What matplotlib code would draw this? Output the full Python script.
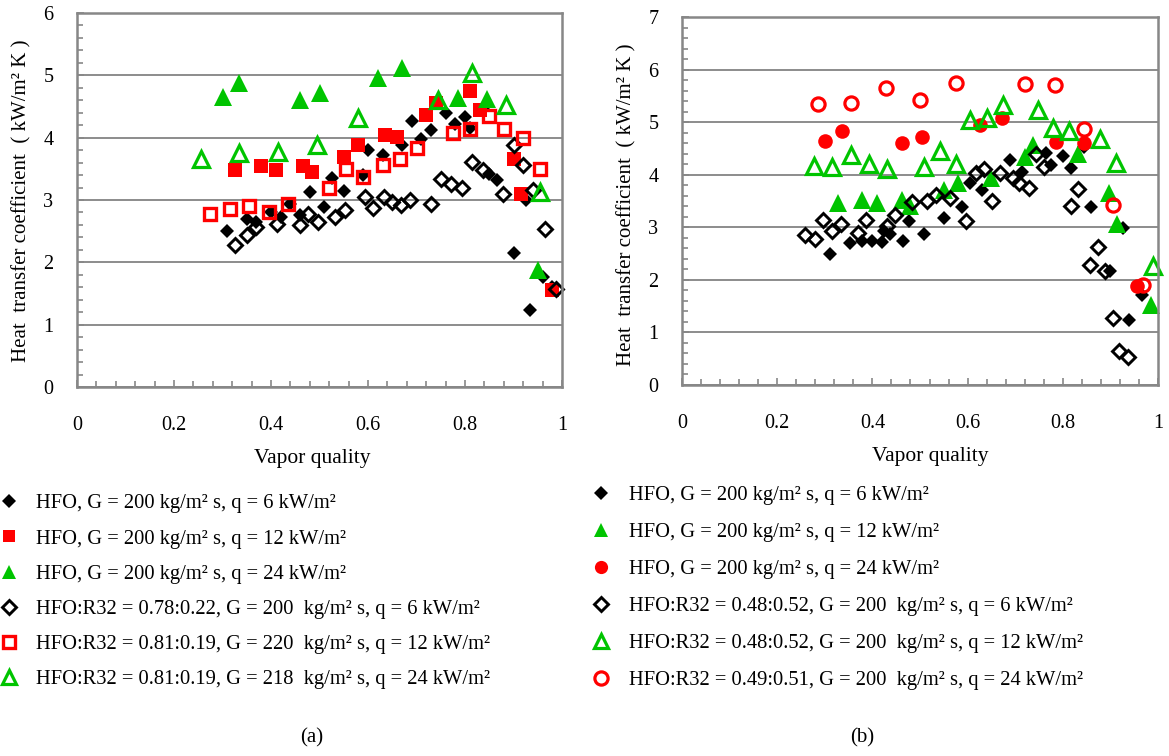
import matplotlib
matplotlib.use("Agg")
import matplotlib.pyplot as plt
from matplotlib.ticker import MultipleLocator, FuncFormatter

plt.rcParams['font.family'] = ['Liberation Serif', 'DejaVu Serif']

GREEN = '#00c400'
RED = '#ff0000'
BLACK = '#000000'
GRAY = '#878787'

# ---------------- (a) HFO vs HFO:R32 (0.78-0.81 HFO) ----------------
a_hfo_q6_x = [0.31, 0.35, 0.37, 0.40, 0.42, 0.44, 0.46, 0.48, 0.51, 0.525, 0.55, 0.59, 0.60, 0.63, 0.67,
              0.69, 0.71, 0.73, 0.76, 0.78, 0.80, 0.81, 0.84, 0.85, 0.865, 0.90, 0.925, 0.935, 0.96, 0.98]
a_hfo_q6_y = [2.50, 2.70, 2.65, 2.80, 2.72, 2.93, 2.76, 3.13, 2.89, 3.36, 3.15, 3.40, 3.80, 3.72, 3.88,
              4.27, 3.98, 4.12, 4.40, 4.22, 4.33, 4.15, 4.50, 3.42, 3.32, 2.15, 3.00, 1.23, 1.77, 1.60]

a_hfo_q12_x = [0.325, 0.38, 0.41, 0.465, 0.485, 0.55, 0.58, 0.635, 0.66, 0.72, 0.74, 0.81, 0.83, 0.90, 0.915, 0.98]
a_hfo_q12_y = [3.48, 3.55, 3.48, 3.55, 3.45, 3.69, 3.88, 4.04, 4.01, 4.36, 4.55, 4.75, 4.44, 3.66, 3.09, 1.55]

a_hfo_q24_x = [0.30, 0.335, 0.46, 0.50, 0.62, 0.67, 0.785, 0.845, 0.95]
a_hfo_q24_y = [4.65, 4.87, 4.60, 4.71, 4.95, 5.11, 4.63, 4.62, 1.87]

a_mix_q6_x = [0.326, 0.35, 0.37, 0.412, 0.46, 0.477, 0.496, 0.532, 0.553, 0.594, 0.611, 0.632, 0.649, 0.669,
              0.687, 0.729, 0.751, 0.771, 0.793, 0.815, 0.838, 0.879, 0.90, 0.92, 0.941, 0.965, 0.987]
a_mix_q6_y = [2.28, 2.44, 2.57, 2.62, 2.60, 2.78, 2.65, 2.73, 2.84, 3.05, 2.87, 3.05, 2.97, 2.92,
              3.00, 2.94, 3.34, 3.25, 3.20, 3.61, 3.48, 3.09, 3.89, 3.56, 3.16, 2.53, 1.58]

a_mix_q12_x = [0.275, 0.315, 0.355, 0.395, 0.435, 0.52, 0.555, 0.59, 0.63, 0.665, 0.70, 0.775, 0.81,
               0.85, 0.88, 0.92, 0.955]
a_mix_q12_y = [2.77, 2.86, 2.91, 2.81, 2.93, 3.20, 3.50, 3.37, 3.56, 3.65, 3.84, 4.07, 4.14,
               4.34, 4.14, 3.99, 3.49]

a_mix_q24_x = [0.255, 0.335, 0.415, 0.495, 0.58, 0.745, 0.815, 0.885, 0.955]
a_mix_q24_y = [3.66, 3.75, 3.77, 3.88, 4.31, 4.60, 5.03, 4.52, 3.13]

a_labels = [
    "HFO, G = 200 kg/m\u00b2 s, q = 6 kW/m\u00b2",
    "HFO, G = 200 kg/m\u00b2 s, q = 12 kW/m\u00b2",
    "HFO, G = 200 kg/m\u00b2 s, q = 24 kW/m\u00b2",
    "HFO:R32 = 0.78:0.22, G = 200  kg/m\u00b2 s, q = 6 kW/m\u00b2",
    "HFO:R32 = 0.81:0.19, G = 220  kg/m\u00b2 s, q = 12 kW/m\u00b2",
    "HFO:R32 = 0.81:0.19, G = 218  kg/m\u00b2 s, q = 24 kW/m\u00b2",
]

# ---------------- (b) HFO vs HFO:R32 (0.48-0.49 HFO) ----------------
b_hfo_q6_x = [0.31, 0.352, 0.378, 0.40, 0.42, 0.424, 0.438, 0.464, 0.477, 0.509, 0.55, 0.589, 0.605, 0.631,
              0.69, 0.715, 0.764, 0.775, 0.80, 0.817, 0.845, 0.859, 0.90, 0.926, 0.94, 0.966]
b_hfo_q6_y = [2.50, 2.70, 2.73, 2.73, 2.72, 2.92, 2.88, 2.74, 3.12, 2.88, 3.17, 3.38, 3.85, 3.70,
              4.28, 4.06, 4.41, 4.19, 4.35, 4.13, 4.52, 3.39, 2.16, 2.98, 1.24, 1.71]

b_hfo_q12_x = [0.327, 0.378, 0.41, 0.463, 0.48, 0.55, 0.58, 0.65, 0.72, 0.737, 0.832, 0.898, 0.914, 0.985]
b_hfo_q12_y = [3.46, 3.52, 3.46, 3.52, 3.40, 3.71, 3.85, 3.93, 4.33, 4.56, 4.40, 3.65, 3.07, 1.52]

b_hfo_q24_x = [0.30, 0.337, 0.463, 0.505, 0.625, 0.673, 0.785, 0.845, 0.955]
b_hfo_q24_y = [4.65, 4.84, 4.60, 4.71, 4.95, 5.08, 4.63, 4.60, 1.89]

b_mix_q6_x = [0.259, 0.28, 0.297, 0.315, 0.335, 0.37, 0.387, 0.43, 0.448, 0.483, 0.515, 0.533, 0.564, 0.597,
              0.617, 0.634, 0.652, 0.669, 0.695, 0.708, 0.729, 0.743, 0.76, 0.817, 0.832, 0.858, 0.874,
              0.888, 0.906, 0.918, 0.936]
b_mix_q6_y = [2.86, 2.77, 3.14, 2.93, 3.06, 2.89, 3.14, 3.03, 3.24, 3.49, 3.50, 3.62, 3.56, 3.12,
              4.03, 4.10, 3.50, 4.03, 3.94, 3.84, 3.75, 4.40, 4.14, 3.40, 3.73, 2.29, 2.63,
              2.16, 1.27, 0.64, 0.53]

b_mix_q12_x = [0.277, 0.315, 0.354, 0.392, 0.43, 0.508, 0.542, 0.575, 0.605, 0.641, 0.675, 0.748, 0.78,
               0.812, 0.879, 0.912, 0.989]
b_mix_q12_y = [4.16, 4.15, 4.37, 4.21, 4.11, 4.14, 4.45, 4.20, 5.04, 5.08, 5.32, 5.23, 4.88,
               4.83, 4.68, 4.23, 2.26]

b_mix_q24_x = [0.285, 0.356, 0.429, 0.50, 0.575, 0.72, 0.783, 0.844, 0.905, 0.968]
b_mix_q24_y = [5.35, 5.37, 5.64, 5.43, 5.75, 5.73, 5.71, 4.87, 3.43, 1.90]

b_labels = [
    "HFO, G = 200 kg/m\u00b2 s, q = 6 kW/m\u00b2",
    "HFO, G = 200 kg/m\u00b2 s, q = 12 kW/m\u00b2",
    "HFO, G = 200 kg/m\u00b2 s, q = 24 kW/m\u00b2",
    "HFO:R32 = 0.48:0.52, G = 200  kg/m\u00b2 s, q = 6 kW/m\u00b2",
    "HFO:R32 = 0.48:0.52, G = 200  kg/m\u00b2 s, q = 12 kW/m\u00b2",
    "HFO:R32 = 0.49:0.51, G = 200  kg/m\u00b2 s, q = 24 kW/m\u00b2",
]

ylabel = "Heat  transfer coefficient  ( kW/m\u00b2 K )"
FS = 14.5
LEG_FS = 14.8

W, H = 1169, 756
fig = plt.figure(figsize=(W / 100, H / 100), dpi=100)


def px_axes(x0, x1, ytop, ybot):
    return fig.add_axes([x0 / W, 1 - ybot / H, (x1 - x0) / W, (ybot - ytop) / H])


def style_axes(ax, ymax):
    ax.set_xlim(0, 1)
    ax.set_ylim(0, ymax)
    for sp in ax.spines.values():
        sp.set_color(GRAY)
        sp.set_linewidth(1.8)
    ax.xaxis.set_major_locator(MultipleLocator(0.2))
    ax.xaxis.set_minor_locator(MultipleLocator(0.04))
    ax.yaxis.set_major_locator(MultipleLocator(1))
    ax.yaxis.set_minor_locator(MultipleLocator(0.2))
    ax.xaxis.set_major_formatter(FuncFormatter(
        lambda v, p: "0" if abs(v) < 1e-9 else ("1" if abs(v - 1) < 1e-9 else f"{v:.1f}")))
    ax.yaxis.set_major_formatter(FuncFormatter(lambda v, p: f"{v:.0f}"))
    ax.tick_params(which='both', direction='in', color=GRAY, width=1.2, labelsize=FS)
    ax.tick_params(which='major', length=5)
    ax.tick_params(which='minor', length=4)
    ax.tick_params(axis='x', which='major', pad=21)
    ax.tick_params(axis='y', which='major', pad=17)
    ax.grid(axis='y', which='major', color='#8c8c8c', linewidth=1.4)
    ax.set_axisbelow(True)


def filled(ax, x, y, marker, color, ms, label):
    return ax.plot(x, y, linestyle='none', marker=marker, ms=ms, mfc=color, mec=color,
                   mew=0, label=label, clip_on=False)[0]


def hollow(ax, x, y, marker, color, ms, label, mew=2.3):
    return ax.plot(x, y, linestyle='none', marker=marker, ms=ms, mfc='none', mec=color,
                   mew=mew, label=label, clip_on=False)[0]


# ---- panel (a)
axa = px_axes(77, 562, 13, 387)
style_axes(axa, 6)
ha = [
    filled(axa, a_hfo_q6_x, a_hfo_q6_y, 'D', BLACK, 7.6, a_labels[0]),
    filled(axa, a_hfo_q12_x, a_hfo_q12_y, 's', RED, 9.6, a_labels[1]),
    filled(axa, a_hfo_q24_x, a_hfo_q24_y, '^', GREEN, 12.5, a_labels[2]),
    hollow(axa, a_mix_q6_x, a_mix_q6_y, 'D', BLACK, 7.2, a_labels[3], mew=2.1),
    hollow(axa, a_mix_q12_x, a_mix_q12_y, 's', RED, 8.8, a_labels[4], mew=2.4),
    hollow(axa, a_mix_q24_x, a_mix_q24_y, '^', GREEN, 11.5, a_labels[5], mew=2.3),
]

# ---- panel (b)
axb = px_axes(682, 1158, 17, 385)
style_axes(axb, 7)
hb = [
    filled(axb, b_hfo_q6_x, b_hfo_q6_y, 'D', BLACK, 7.0, b_labels[0]),
    filled(axb, b_hfo_q12_x, b_hfo_q12_y, '^', GREEN, 13, b_labels[1]),
    filled(axb, b_hfo_q24_x, b_hfo_q24_y, 'o', RED, 10.5, b_labels[2]),
    hollow(axb, b_mix_q6_x, b_mix_q6_y, 'D', BLACK, 6.8, b_labels[3], mew=2.1),
    hollow(axb, b_mix_q12_x, b_mix_q12_y, '^', GREEN, 12, b_labels[4], mew=2.3),
    hollow(axb, b_mix_q24_x, b_mix_q24_y, 'o', RED, 9.5, b_labels[5], mew=2.3),
]

# axis titles
fig.text(22 / W, 1 - 201 / H, ylabel, rotation=90, ha='center', va='center', fontsize=15)
fig.text(627 / W, 1 - 205 / H, ylabel, rotation=90, ha='center', va='center', fontsize=15)
fig.text(312 / W, 1 - 459 / H, "Vapor quality", ha='center', va='center', fontsize=15.5)
fig.text(930 / W, 1 - 457 / H, "Vapor quality", ha='center', va='center', fontsize=15.5)

# legends below each panel
leg_kw = dict(frameon=False, fontsize=LEG_FS, numpoints=1, handlelength=0.8, borderpad=0,
              borderaxespad=0, loc='upper left', bbox_transform=fig.transFigure)
leg_a = fig.legend(handles=ha, labels=a_labels, bbox_to_anchor=(1 / W, 1 - 494 / H),
                   handletextpad=0.88, labelspacing=0.77, **leg_kw)
leg_b = fig.legend(handles=hb, labels=b_labels, bbox_to_anchor=(593 / W, 1 - 486 / H),
                   handletextpad=0.93, labelspacing=0.85, **leg_kw)

# legend symbols are drawn at a common, slightly smaller size
legend_sizes = {'D': 6.8, 's': 9.0, '^': 10.0, 'o': 9.5}
for leg in (leg_a, leg_b):
    for h in leg.legend_handles:
        h.set_markersize(legend_sizes[h.get_marker()])

fig.text(312 / W, 1 - 738 / H, "(a)", ha='center', va='center', fontsize=15)
fig.text(862 / W, 1 - 738 / H, "(b)", ha='center', va='center', fontsize=15)

fig.savefig("out.png", dpi=100)
